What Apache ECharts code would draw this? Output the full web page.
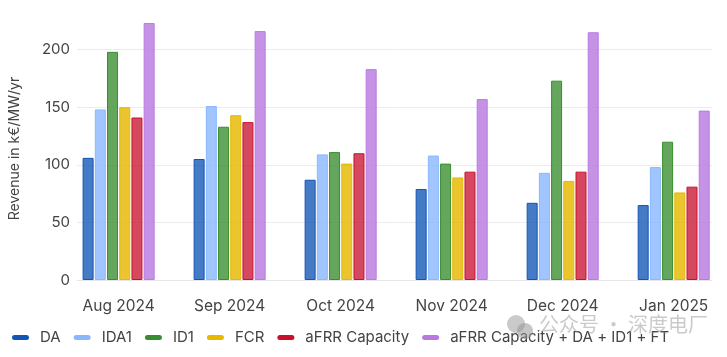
<!DOCTYPE html>
<html>
<head>
<meta charset="utf-8">
<style>
  html, body { margin: 0; padding: 0; background: #fff; }
  #chart { width: 727px; height: 357px; }
</style>
<script src="https://cdn.jsdelivr.net/npm/echarts@6/dist/echarts.min.js"></script>
</head>
<body>
<div id="chart"></div>
<script>
const months = ['Aug 2024', 'Sep 2024', 'Oct 2024', 'Nov 2024', 'Dec 2024', 'Jan 2025'];
const da = [106, 105, 87, 79, 67, 65];
const ida1 = [148, 151, 109, 108, 93, 98];
const id1 = [198, 133, 111, 101, 173, 120];
const fcr = [150, 143, 101, 89, 86, 76];
const afrr = [141, 137, 110, 94, 94, 81];
const stacked = [223, 216, 183, 157, 215, 147];

const chart = echarts.init(document.getElementById('chart'));
const FONT = 'Inter, sans-serif';

function barSeries(name, values, color, fill) {
    return {
        name: name,
        type: 'bar',
        barWidth: 11,
        barGap: '11%',
        data: values.map((v, i) => [i, v]),
        itemStyle: { color: fill, borderColor: color, borderWidth: 1 },
        animation: false
    };
}

chart.setOption({
    backgroundColor: '#fff',
    animation: false,
    textStyle: { fontFamily: FONT },
    // bars are on a value axis because the plot is not centred on the groups
    grid: { left: 77, right: 15, top: 0, bottom: 77 },
    xAxis: {
        type: 'value',
        min: -0.375,
        max: 5.345,
        splitLine: { show: false },
        axisTick: { show: false },
        axisLine: { onZero: true, lineStyle: { color: '#e6e6ea' } },
        axisLabel: {
            customValues: months.map((m, i) => i),
            formatter: v => months[v],
            color: '#444',
            fontSize: 15.5,
            fontFamily: FONT,
            margin: 18
        }
    },
    yAxis: {
        type: 'value',
        min: 0,
        max: 243,
        interval: 50,
        name: 'Revenue in k€/MW/yr',
        nameLocation: 'middle',
        nameGap: 55,
        nameTextStyle: { color: '#444', fontSize: 14, fontFamily: FONT, padding: [0, 17, 0, 0] },
        axisLine: { show: false },
        axisTick: { show: false },
        axisLabel: { color: '#444', fontSize: 15, fontFamily: FONT, margin: 7, showMaxLabel: false },
        splitLine: { showMaxLine: false, lineStyle: { color: '#ececf0' } }
    },
    legend: {
        left: 7,
        top: 325,
        itemWidth: 17,
        itemHeight: 5,
        itemGap: 13,
        icon: 'path://M2.5,0H14.5A2.5,2.5,0,0,1,14.5,5H2.5A2.5,2.5,0,0,1,2.5,0Z',
        itemStyle: { borderWidth: 0 },
        textStyle: { color: '#444', fontSize: 15, fontFamily: FONT, padding: [0, 0, 0, 6] },
        data: [
            { name: 'DA', itemStyle: { color: '#1155b5' } },
            { name: 'IDA1', itemStyle: { color: '#8ab8ff' } },
            { name: 'ID1', itemStyle: { color: '#388e2e' } },
            { name: 'FCR', itemStyle: { color: '#e6b800' } },
            { name: 'aFRR Capacity', itemStyle: { color: '#c8102e' } },
            { name: 'aFRR Capacity + DA + ID1 + FT', itemStyle: { color: '#b97ae0' } }
        ]
    },
    series: [
        barSeries('DA', da, '#1155b5', 'rgba(17,85,181,0.78)'),
        barSeries('IDA1', ida1, '#8ab8ff', 'rgba(138,184,255,0.8)'),
        barSeries('ID1', id1, '#388e2e', 'rgba(56,142,46,0.78)'),
        barSeries('FCR', fcr, '#e6b800', 'rgba(230,184,0,0.82)'),
        barSeries('aFRR Capacity', afrr, '#c8102e', 'rgba(200,16,46,0.76)'),
        barSeries('aFRR Capacity + DA + ID1 + FT', stacked, '#b97ae0', 'rgba(185,122,224,0.82)')
    ],
    graphic: [
        { type: 'circle', shape: { cx: 516, cy: 324, r: 9 }, style: { fill: 'rgba(150,150,150,0.5)' }, z: 20 },
        { type: 'circle', shape: { cx: 525, cy: 331, r: 8 }, style: { fill: 'rgba(150,150,150,0.55)' }, z: 20 },
        {
            type: 'text', left: 539, top: 314, z: 20,
            style: { text: '公众号 · 深度电厂', fill: 'rgba(150,150,150,0.5)', fontSize: 20, fontFamily: '"Noto Sans CJK SC"' }
        }
    ]
});
</script>
</body>
</html>
